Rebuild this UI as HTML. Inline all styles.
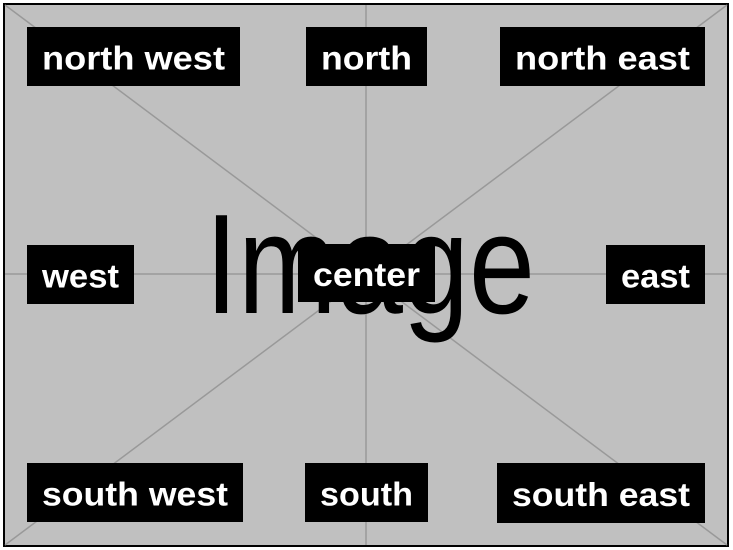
<!DOCTYPE html>
<html><head><meta charset="utf-8"><style>
html,body{margin:0;padding:0;background:#fff;}
svg{display:block;font-family:"Liberation Sans",sans-serif;}
</style></head><body>
<svg width="733" height="550" viewBox="0 0 733 550">
<rect x="4" y="4" width="724" height="542" fill="#c0c0c0" stroke="#000" stroke-width="2"/>
<g stroke="#999" stroke-width="1.5">
<line x1="5" y1="5" x2="727" y2="545"/>
<line x1="727" y1="5" x2="5" y2="545"/>
<line x1="5" y1="274" x2="727" y2="274"/>
<line x1="366" y1="5" x2="366" y2="545"/>
</g>
<text x="205" y="313" font-size="142" textLength="330" lengthAdjust="spacingAndGlyphs" fill="#000">Image</text>
<g id="labels"></g>
</svg>
<script>
const names=["north west","north","north east","west","center","east","south west","south","south east"];
const boxes=[[27,27,213,59],[306,27,121,59],[500,27,205,59],[27,245,107,59],[298,244,137,58],[606,245,99,59],[27,463,216,59],[305,463,123,59],[497,463,208,60]];
const g=document.getElementById('labels');
const ns="http://www.w3.org/2000/svg";
names.forEach((n,i)=>{
  const [x,y,w,h]=boxes[i];
  const r=document.createElementNS(ns,'rect');
  r.setAttribute('x',x);r.setAttribute('y',y);r.setAttribute('width',w);r.setAttribute('height',h);r.setAttribute('fill','#000');
  
  
  g.appendChild(r);
  const t=document.createElementNS(ns,'text');
  t.setAttribute('x',x+w/2);t.setAttribute('y',y+h/2+13);
  t.setAttribute('text-anchor','middle');t.setAttribute('font-size','33');t.setAttribute('font-weight','bold');t.setAttribute('fill','#fff');
  t.setAttribute('textLength',w-30);t.setAttribute('lengthAdjust','spacingAndGlyphs');
  t.textContent=n;
  
  
  g.appendChild(t);
});
</script>
</body></html>
